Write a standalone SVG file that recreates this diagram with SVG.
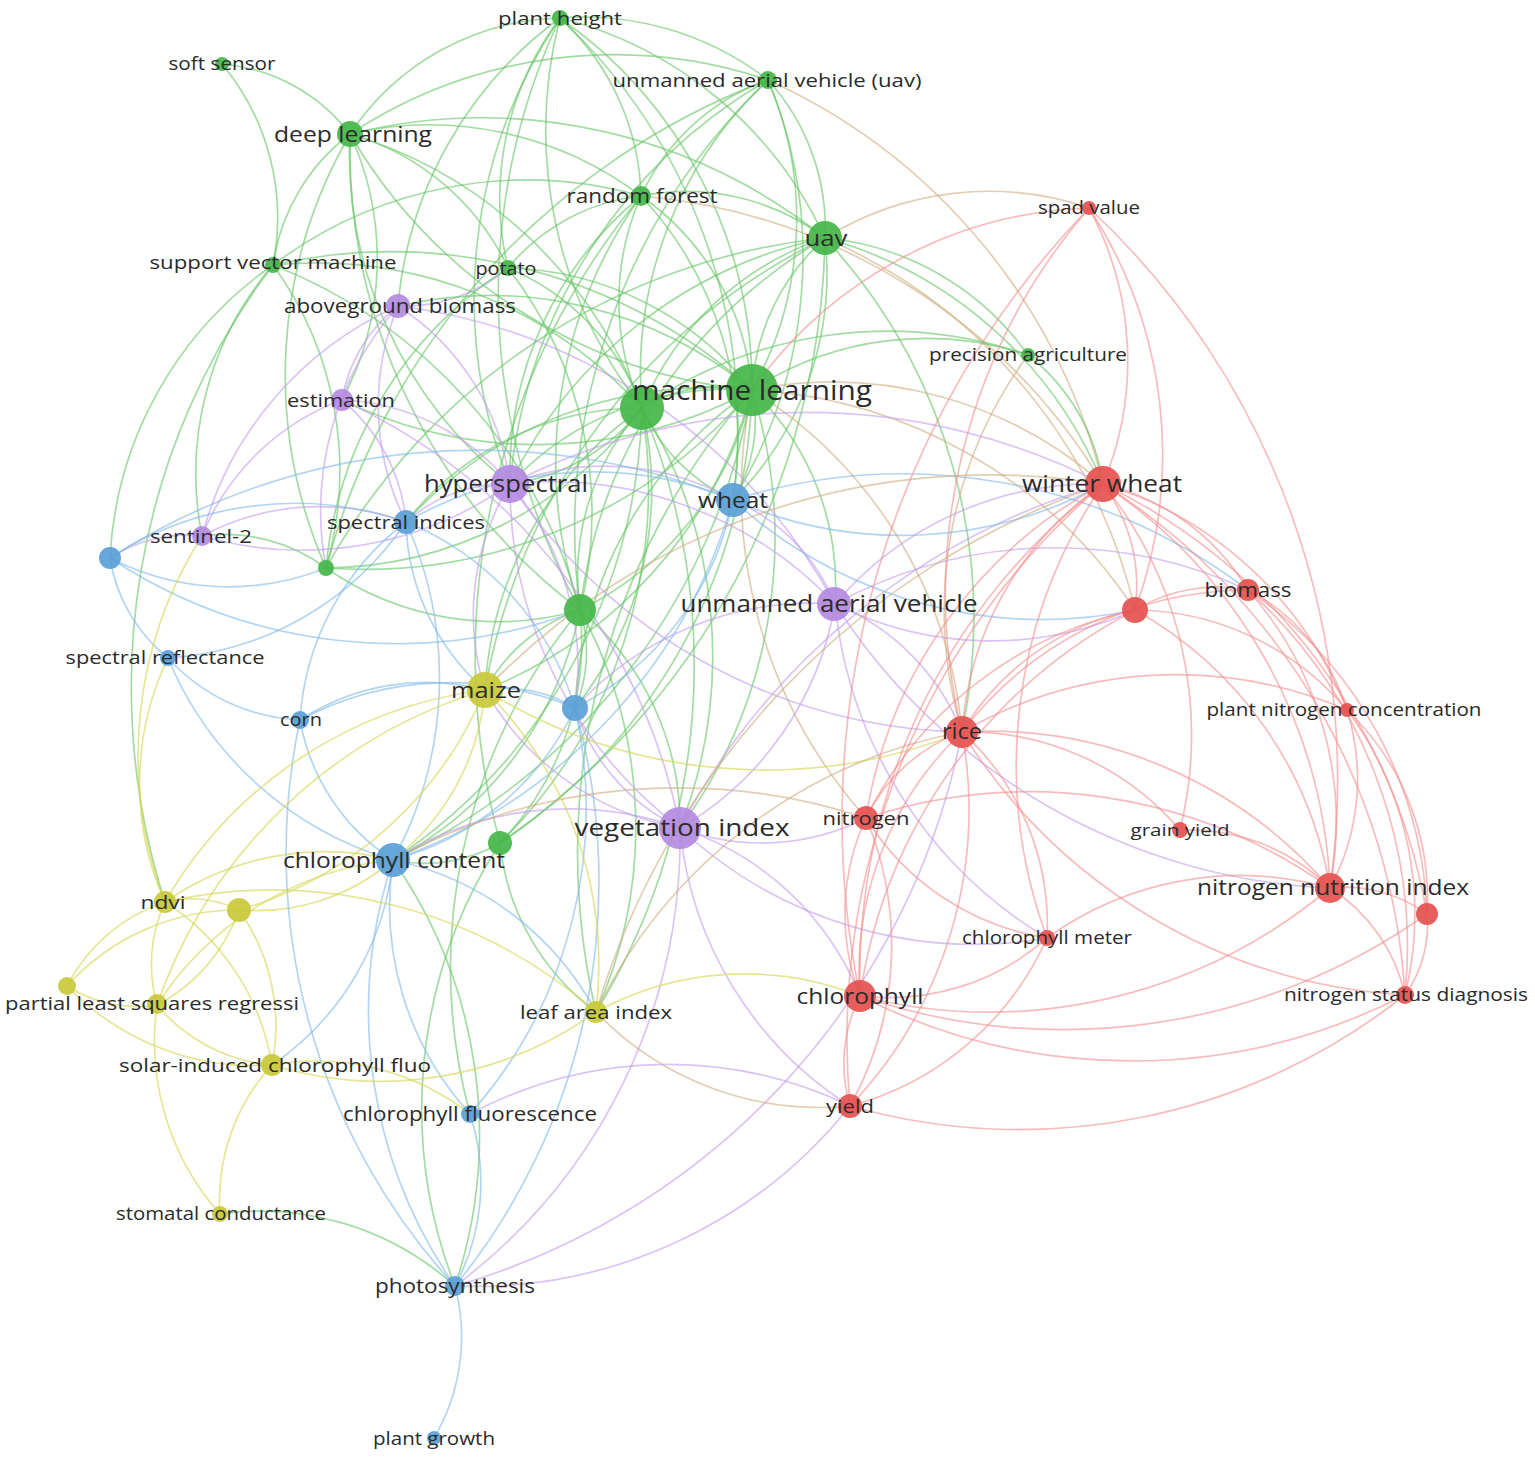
<svg xmlns="http://www.w3.org/2000/svg" width="1535" height="1457" viewBox="0 0 1535 1457">
<style>
.g{stroke:#66c566}.p{stroke:#c29ceb}.b{stroke:#80b9e7}.y{stroke:#d4d64e}.r{stroke:#f29090}.t{stroke:#cfae80}
.ng{fill:#45b649}.np{fill:#b48ae0}.nb{fill:#5a9fd6}.ny{fill:#c9c93a}.nr{fill:#e5514f}
text{font-family:"Open Sans","DejaVu Sans",sans-serif;fill:#2b2b2b;text-anchor:middle}
circle{fill-opacity:0.92}
</style>
<rect width="1535" height="1457" fill="#fff"/>
<g id="connectors" fill="none" stroke-width="1.7" stroke-opacity="0.6">
<path class="g" d="M350,134 A260,260 0 0 1 560,18"/>
<path class="g" d="M560,18 A300,300 0 0 1 768,80"/>
<path class="g" d="M560,18 A250,250 0 0 1 641,196"/>
<path class="g" d="M560,18 A400,400 0 0 1 825,238"/>
<path class="g" d="M560,18 A450,450 0 0 1 752,390"/>
<path class="g" d="M560,18 A450,450 0 0 0 642,408"/>
<path class="g" d="M560,18 A650,650 0 0 0 580,610"/>
<path class="g" d="M560,18 A300,300 0 0 0 508,268"/>
<path class="g" d="M560,18 A500,500 0 0 0 510,484"/>
<path class="g" d="M560,18 A400,400 0 0 0 398,306"/>
<path class="g" d="M560,18 A560,560 0 0 1 733,500"/>
<path class="g" d="M222,64 A180,180 0 0 1 350,134"/>
<path class="g" d="M222,64 A240,240 0 0 1 273,265"/>
<path class="g" d="M350,134 A480,480 0 0 1 768,80"/>
<path class="g" d="M350,134 A350,350 0 0 1 641,196"/>
<path class="g" d="M350,134 A550,550 0 0 1 825,238"/>
<path class="g" d="M350,134 A520,520 0 0 0 752,390"/>
<path class="g" d="M350,134 A450,450 0 0 1 642,408"/>
<path class="g" d="M350,134 A200,200 0 0 0 273,265"/>
<path class="g" d="M350,134 A250,250 0 0 1 508,268"/>
<path class="g" d="M350,134 A580,580 0 0 0 580,610"/>
<path class="g" d="M350,134 A480,480 0 0 0 326,568"/>
<path class="g" d="M350,134 A300,300 0 0 1 342,400"/>
<path class="g" d="M350,134 A420,420 0 0 0 510,484"/>
<path class="g" d="M768,80 A350,350 0 0 1 752,390"/>
<path class="g" d="M768,80 A400,400 0 0 0 642,408"/>
<path class="g" d="M768,80 A220,220 0 0 0 641,196"/>
<path class="g" d="M768,80 A220,220 0 0 1 825,238"/>
<path class="g" d="M768,80 A620,620 0 0 0 580,610"/>
<path class="t" d="M768,80 A600,600 0 0 1 1103,484"/>
<path class="g" d="M768,80 A720,720 0 0 0 326,568"/>
<path class="g" d="M768,80 A520,520 0 0 0 510,484"/>
<path class="g" d="M768,80 A460,460 0 0 1 733,500"/>
<path class="g" d="M641,196 A260,260 0 0 1 752,390"/>
<path class="g" d="M641,196 A260,260 0 0 0 642,408"/>
<path class="g" d="M641,196 A230,230 0 0 1 825,238"/>
<path class="g" d="M641,196 A460,460 0 0 0 580,610"/>
<path class="g" d="M641,196 A200,200 0 0 0 508,268"/>
<path class="g" d="M641,196 A360,360 0 0 0 510,484"/>
<path class="g" d="M641,196 A360,360 0 0 1 733,500"/>
<path class="g" d="M641,196 A720,720 0 0 0 500,843"/>
<path class="g" d="M641,196 A420,420 0 0 0 273,265"/>
<path class="t" d="M641,196 A600,600 0 0 1 1103,484"/>
<path class="g" d="M825,238 A220,220 0 0 0 752,390"/>
<path class="g" d="M825,238 A300,300 0 0 0 642,408"/>
<path class="g" d="M825,238 A500,500 0 0 0 580,610"/>
<path class="g" d="M825,238 A420,420 0 0 1 1103,484"/>
<path class="g" d="M825,238 A560,560 0 0 1 962,732"/>
<path class="g" d="M825,238 A280,280 0 0 1 1028,355"/>
<path class="g" d="M825,238 A450,450 0 0 0 510,484"/>
<path class="g" d="M825,238 A320,320 0 0 1 733,500"/>
<path class="g" d="M825,238 A650,650 0 0 0 326,568"/>
<path class="t" d="M825,238 A540,540 0 0 1 1135,610"/>
<path class="g" d="M825,238 A750,750 0 0 1 500,843"/>
<path class="g" d="M825,238 A620,620 0 0 0 485,690"/>
<path class="g" d="M508,268 A320,320 0 0 1 752,390"/>
<path class="g" d="M508,268 A240,240 0 0 1 642,408"/>
<path class="p" d="M508,268 A160,160 0 0 1 398,306"/>
<path class="g" d="M508,268 A400,400 0 0 1 580,610"/>
<path class="g" d="M508,268 A400,400 0 0 0 326,568"/>
<path class="g" d="M273,265 A540,540 0 0 1 752,390"/>
<path class="g" d="M273,265 A440,440 0 0 1 642,408"/>
<path class="g" d="M273,265 A350,350 0 0 1 326,568"/>
<path class="g" d="M273,265 A320,320 0 0 0 202,536"/>
<path class="g" d="M273,265 A700,700 0 0 0 165,902"/>
<path class="g" d="M273,265 A510,510 0 0 1 580,610"/>
<path class="g" d="M273,265 A380,380 0 0 0 110,558"/>
<path class="g" d="M1028,355 A320,320 0 0 0 752,390"/>
<path class="g" d="M1028,355 A200,200 0 0 1 1103,484"/>
<path class="g" d="M1028,355 A430,430 0 0 0 642,408"/>
<path class="t" d="M1028,355 A430,430 0 0 0 962,732"/>
<path class="g" d="M752,390 A150,150 0 0 0 642,408"/>
<path class="g" d="M752,390 A320,320 0 0 1 580,610"/>
<path class="g" d="M752,390 A560,560 0 0 1 500,843"/>
<path class="g" d="M752,390 A300,300 0 0 0 510,484"/>
<path class="g" d="M752,390 A270,270 0 0 1 835,604"/>
<path class="g" d="M752,390 A490,490 0 0 1 680,828"/>
<path class="g" d="M752,390 A150,150 0 0 1 733,500"/>
<path class="g" d="M752,390 A410,410 0 0 0 575,708"/>
<path class="t" d="M752,390 A410,410 0 0 1 1103,484"/>
<path class="t" d="M752,390 A450,450 0 0 1 962,732"/>
<path class="g" d="M752,390 A450,450 0 0 1 485,690"/>
<path class="g" d="M752,390 A410,410 0 0 0 406,522"/>
<path class="g" d="M752,390 A510,510 0 0 1 326,568"/>
<path class="t" d="M752,390 A490,490 0 0 1 1135,610"/>
<path class="t" d="M752,390 A490,490 0 0 0 866,818"/>
<path class="g" d="M752,390 A640,640 0 0 1 393,860"/>
<path class="g" d="M752,390 A700,700 0 0 0 596,1012"/>
<path class="g" d="M752,390 A410,410 0 0 0 398,306"/>
<path class="g" d="M752,390 A450,450 0 0 1 342,400"/>
<path class="g" d="M642,408 A250,250 0 0 0 580,610"/>
<path class="g" d="M642,408 A500,500 0 0 1 500,843"/>
<path class="g" d="M642,408 A200,200 0 0 1 510,484"/>
<path class="g" d="M642,408 A180,180 0 0 0 733,500"/>
<path class="g" d="M642,408 A350,350 0 0 1 575,708"/>
<path class="g" d="M642,408 A560,560 0 0 1 393,860"/>
<path class="g" d="M642,408 A370,370 0 0 0 485,690"/>
<path class="g" d="M642,408 A470,470 0 0 1 680,828"/>
<path class="g" d="M642,408 A660,660 0 0 1 596,1012"/>
<path class="g" d="M642,408 A300,300 0 0 0 406,522"/>
<path class="g" d="M642,408 A400,400 0 0 1 326,568"/>
<path class="g" d="M326,568 A300,300 0 0 0 580,610"/>
<path class="b" d="M326,568 A260,260 0 0 1 110,558"/>
<path class="g" d="M326,568 A170,170 0 0 0 202,536"/>
<path class="g" d="M580,610 A290,290 0 0 1 500,843"/>
<path class="g" d="M580,610 A140,140 0 0 1 575,708"/>
<path class="g" d="M580,610 A170,170 0 0 0 485,690"/>
<path class="g" d="M580,610 A280,280 0 0 1 680,828"/>
<path class="g" d="M580,610 A360,360 0 0 1 393,860"/>
<path class="g" d="M580,610 A450,450 0 0 1 596,1012"/>
<path class="g" d="M580,610 A560,560 0 0 0 470,1114"/>
<path class="g" d="M500,843 A150,150 0 0 1 393,860"/>
<path class="g" d="M500,843 A240,240 0 0 0 596,1012"/>
<path class="g" d="M500,843 A490,490 0 0 0 455,1286"/>
<path class="p" d="M398,306 A150,150 0 0 0 342,400"/>
<path class="p" d="M398,306 A250,250 0 0 1 510,484"/>
<path class="p" d="M398,306 A260,260 0 0 0 406,522"/>
<path class="p" d="M398,306 A350,350 0 0 0 202,536"/>
<path class="p" d="M398,306 A580,580 0 0 1 835,604"/>
<path class="p" d="M398,306 A310,310 0 0 0 326,568"/>
<path class="p" d="M342,400 A230,230 0 0 1 510,484"/>
<path class="p" d="M342,400 A240,240 0 0 0 202,536"/>
<path class="p" d="M342,400 A180,180 0 0 1 406,522"/>
<path class="p" d="M342,400 A600,600 0 0 1 680,828"/>
<path class="p" d="M510,484 A390,390 0 0 1 835,604"/>
<path class="p" d="M510,484 A430,430 0 0 0 680,828"/>
<path class="p" d="M510,484 A260,260 0 0 1 733,500"/>
<path class="p" d="M510,484 A150,150 0 0 0 406,522"/>
<path class="p" d="M510,484 A360,360 0 0 1 202,536"/>
<path class="p" d="M510,484 A280,280 0 0 1 575,708"/>
<path class="p" d="M510,484 A250,250 0 0 0 485,690"/>
<path class="p" d="M510,484 A650,650 0 0 1 1103,484"/>
<path class="p" d="M510,484 A560,560 0 0 0 962,732"/>
<path class="p" d="M202,536 A250,250 0 0 1 406,522"/>
<path class="p" d="M202,536 A140,140 0 0 0 110,558"/>
<path class="p" d="M835,604 A320,320 0 0 1 680,828"/>
<path class="p" d="M835,604 A190,190 0 0 0 733,500"/>
<path class="p" d="M835,604 A230,230 0 0 1 962,732"/>
<path class="p" d="M835,604 A340,340 0 0 1 1103,484"/>
<path class="p" d="M835,604 A350,350 0 0 0 1135,610"/>
<path class="p" d="M835,604 A460,460 0 0 1 1248,590"/>
<path class="p" d="M835,604 A620,620 0 0 0 1330,888"/>
<path class="p" d="M835,604 A440,440 0 0 0 1047,938"/>
<path class="p" d="M835,604 A320,320 0 0 0 575,708"/>
<path class="p" d="M680,828 A200,200 0 0 1 575,708"/>
<path class="p" d="M680,828 A330,330 0 0 0 393,860"/>
<path class="p" d="M680,828 A280,280 0 0 1 485,690"/>
<path class="p" d="M680,828 A230,230 0 0 0 866,818"/>
<path class="p" d="M680,828 A290,290 0 0 1 860,996"/>
<path class="p" d="M680,828 A370,370 0 0 0 850,1106"/>
<path class="p" d="M455,1286 A560,560 0 0 0 680,828"/>
<path class="p" d="M680,828 A430,430 0 0 0 1047,938"/>
<path class="p" d="M680,828 A700,700 0 0 1 1103,484"/>
<path class="b" d="M733,500 A370,370 0 0 0 406,522"/>
<path class="b" d="M733,500 A300,300 0 0 1 575,708"/>
<path class="b" d="M733,500 A540,540 0 0 1 393,860"/>
<path class="b" d="M733,500 A420,420 0 0 0 1103,484"/>
<path class="b" d="M733,500 A460,460 0 0 0 1135,610"/>
<path class="b" d="M110,558 A680,680 0 0 1 733,500"/>
<path class="b" d="M733,500 A570,570 0 0 1 1248,590"/>
<path class="b" d="M406,522 A340,340 0 0 0 110,558"/>
<path class="b" d="M406,522 A310,310 0 0 1 168,658"/>
<path class="b" d="M406,522 A270,270 0 0 0 300,720"/>
<path class="b" d="M406,522 A380,380 0 0 1 393,860"/>
<path class="b" d="M406,522 A290,290 0 0 1 575,708"/>
<path class="b" d="M406,522 A230,230 0 0 0 485,690"/>
<path class="b" d="M110,558 A160,160 0 0 0 168,658"/>
<path class="b" d="M110,558 A520,520 0 0 0 580,610"/>
<path class="b" d="M168,658 A190,190 0 0 0 300,720"/>
<path class="b" d="M168,658 A350,350 0 0 0 393,860"/>
<path class="b" d="M300,720 A210,210 0 0 0 393,860"/>
<path class="b" d="M300,720 A320,320 0 0 1 575,708"/>
<path class="b" d="M300,720 A230,230 0 0 1 485,690"/>
<path class="b" d="M575,708 A280,280 0 0 1 393,860"/>
<path class="b" d="M575,708 A130,130 0 0 0 485,690"/>
<path class="b" d="M393,860 A310,310 0 0 0 470,1114"/>
<path class="b" d="M393,860 A480,480 0 0 0 455,1286"/>
<path class="g" d="M393,860 A480,480 0 0 1 455,1286"/>
<path class="y" d="M393,860 A280,280 0 0 0 165,902"/>
<path class="y" d="M393,860 A210,210 0 0 1 239,910"/>
<path class="b" d="M393,860 A300,300 0 0 1 596,1012"/>
<path class="b" d="M393,860 A280,280 0 0 1 272,1065"/>
<path class="b" d="M470,1114 A220,220 0 0 1 455,1286"/>
<path class="b" d="M455,1286 A200,200 0 0 1 434,1438"/>
<path class="g" d="M455,1286 A290,290 0 0 0 220,1214"/>
<path class="p" d="M455,1286 A480,480 0 0 0 850,1106"/>
<path class="p" d="M455,1286 A720,720 0 0 0 962,732"/>
<path class="b" d="M455,1286 A640,640 0 0 1 300,720"/>
<path class="b" d="M455,1286 A640,640 0 0 0 575,708"/>
<path class="b" d="M470,1114 A460,460 0 0 0 575,708"/>
<path class="p" d="M470,1114 A420,420 0 0 1 850,1106"/>
<path class="y" d="M470,1114 A250,250 0 0 0 272,1065"/>
<path class="y" d="M485,690 A430,430 0 0 0 165,902"/>
<path class="y" d="M485,690 A380,380 0 0 1 239,910"/>
<path class="y" d="M485,690 A390,390 0 0 1 596,1012"/>
<path class="y" d="M485,690 A240,240 0 0 1 393,860"/>
<path class="y" d="M485,690 A500,500 0 0 0 157,1005"/>
<path class="y" d="M485,690 A530,530 0 0 0 962,732"/>
<path class="t" d="M485,690 A700,700 0 0 1 1103,484"/>
<path class="y" d="M165,902 A110,110 0 0 1 239,910"/>
<path class="y" d="M165,902 A170,170 0 0 0 67,986"/>
<path class="y" d="M165,902 A150,150 0 0 0 157,1005"/>
<path class="y" d="M165,902 A240,240 0 0 1 272,1065"/>
<path class="y" d="M165,902 A490,490 0 0 1 596,1012"/>
<path class="y" d="M165,902 A290,290 0 0 1 168,658"/>
<path class="y" d="M165,902 A410,410 0 0 1 202,536"/>
<path class="y" d="M239,910 A170,170 0 0 1 157,1005"/>
<path class="y" d="M239,910 A200,200 0 0 1 272,1065"/>
<path class="y" d="M239,910 A230,230 0 0 0 67,986"/>
<path class="y" d="M67,986 A130,130 0 0 0 157,1005"/>
<path class="y" d="M67,986 A260,260 0 0 0 272,1065"/>
<path class="y" d="M157,1005 A170,170 0 0 0 272,1065"/>
<path class="y" d="M157,1005 A320,320 0 0 1 393,860"/>
<path class="y" d="M596,1012 A310,310 0 0 1 860,996"/>
<path class="t" d="M596,1012 A310,310 0 0 0 850,1106"/>
<path class="y" d="M596,1012 A370,370 0 0 1 272,1065"/>
<path class="t" d="M596,1012 A800,800 0 0 1 1103,484"/>
<path class="t" d="M596,1012 A510,510 0 0 1 962,732"/>
<path class="y" d="M272,1065 A200,200 0 0 0 220,1214"/>
<path class="y" d="M220,1214 A260,260 0 0 1 157,1005"/>
<path class="r" d="M1089,208 A320,320 0 0 1 1103,484"/>
<path class="r" d="M1089,208 A450,450 0 0 1 1135,610"/>
<path class="r" d="M1089,208 A590,590 0 0 0 962,732"/>
<path class="r" d="M1089,208 A780,780 0 0 1 1330,888"/>
<path class="r" d="M1089,208 A880,880 0 0 0 860,996"/>
<path class="t" d="M825,238 A310,310 0 0 1 1089,208"/>
<path class="r" d="M1089,208 A430,430 0 0 0 752,390"/>
<path class="r" d="M1103,484 A170,170 0 0 1 1135,610"/>
<path class="r" d="M1103,484 A230,230 0 0 1 1248,590"/>
<path class="r" d="M1103,484 A380,380 0 0 1 1347,710"/>
<path class="r" d="M1103,484 A330,330 0 0 0 962,732"/>
<path class="r" d="M1103,484 A460,460 0 0 0 866,818"/>
<path class="r" d="M1103,484 A400,400 0 0 1 1180,830"/>
<path class="r" d="M1103,484 A510,510 0 0 1 1330,888"/>
<path class="r" d="M1103,484 A590,590 0 0 1 1427,914"/>
<path class="r" d="M1103,484 A620,620 0 0 0 860,996"/>
<path class="r" d="M1103,484 A650,650 0 0 1 1405,995"/>
<path class="r" d="M1103,484 A730,730 0 0 0 850,1106"/>
<path class="r" d="M1103,484 A500,500 0 0 0 1047,938"/>
<path class="r" d="M1135,610 A160,160 0 0 1 1248,590"/>
<path class="r" d="M1135,610 A260,260 0 0 0 962,732"/>
<path class="r" d="M1135,610 A390,390 0 0 0 866,818"/>
<path class="r" d="M1135,610 A390,390 0 0 1 1330,888"/>
<path class="r" d="M1135,610 A520,520 0 0 0 860,996"/>
<path class="r" d="M1135,610 A280,280 0 0 1 1347,710"/>
<path class="r" d="M1248,590 A200,200 0 0 1 1347,710"/>
<path class="r" d="M1248,590 A360,360 0 0 0 962,732"/>
<path class="r" d="M1248,590 A350,350 0 0 1 1330,888"/>
<path class="r" d="M1248,590 A480,480 0 0 1 1405,995"/>
<path class="r" d="M1248,590 A410,410 0 0 1 1427,914"/>
<path class="r" d="M1347,710 A230,230 0 0 1 1330,888"/>
<path class="r" d="M1347,710 A340,340 0 0 1 1405,995"/>
<path class="r" d="M1347,710 A260,260 0 0 1 1427,914"/>
<path class="r" d="M1347,710 A430,430 0 0 0 962,732"/>
<path class="r" d="M962,732 A170,170 0 0 0 866,818"/>
<path class="r" d="M962,732 A280,280 0 0 1 1180,830"/>
<path class="r" d="M962,732 A450,450 0 0 1 1330,888"/>
<path class="r" d="M962,732 A260,260 0 0 1 1047,938"/>
<path class="r" d="M962,732 A330,330 0 0 0 860,996"/>
<path class="r" d="M962,732 A430,430 0 0 1 850,1106"/>
<path class="r" d="M962,732 A560,560 0 0 0 1405,995"/>
<path class="r" d="M866,818 A230,230 0 0 0 860,996"/>
<path class="r" d="M866,818 A330,330 0 0 1 850,1106"/>
<path class="r" d="M866,818 A260,260 0 0 0 1047,938"/>
<path class="r" d="M866,818 A520,520 0 0 1 1330,888"/>
<path class="r" d="M1180,830 A200,200 0 0 1 1330,888"/>
<path class="r" d="M1330,888 A140,140 0 0 1 1427,914"/>
<path class="r" d="M1330,888 A170,170 0 0 1 1405,995"/>
<path class="r" d="M1330,888 A530,530 0 0 1 860,996"/>
<path class="r" d="M1330,888 A330,330 0 0 0 1047,938"/>
<path class="r" d="M1427,914 A120,120 0 0 1 1405,995"/>
<path class="r" d="M1427,914 A630,630 0 0 1 860,996"/>
<path class="r" d="M1047,938 A240,240 0 0 1 860,996"/>
<path class="r" d="M1047,938 A300,300 0 0 1 850,1106"/>
<path class="r" d="M860,996 A150,150 0 0 0 850,1106"/>
<path class="r" d="M860,996 A600,600 0 0 0 1405,995"/>
<path class="r" d="M850,1106 A620,620 0 0 0 1405,995"/>
<path class="t" d="M866,818 A600,600 0 0 0 393,860"/>
</g>
<g id="n-plant-height"><circle class="ng" cx="560" cy="18" r="8"/><text x="560" y="25" font-size="19" textLength="124" lengthAdjust="spacingAndGlyphs">plant height</text></g>
<g id="n-soft-sensor"><circle class="ng" cx="222" cy="64" r="7"/><text x="222" y="70" font-size="18" textLength="107" lengthAdjust="spacingAndGlyphs">soft sensor</text></g>
<g id="n-uav-full"><circle class="ng" cx="768" cy="80" r="9"/><text x="767" y="87" font-size="19" textLength="309" lengthAdjust="spacingAndGlyphs">unmanned aerial vehicle (uav)</text></g>
<g id="n-deep-learning"><circle class="ng" cx="350" cy="134" r="13"/><text x="353" y="142" font-size="22" textLength="158" lengthAdjust="spacingAndGlyphs">deep learning</text></g>
<g id="n-random-forest"><circle class="ng" cx="641" cy="196" r="10"/><text x="642" y="203" font-size="20" textLength="151" lengthAdjust="spacingAndGlyphs">random forest</text></g>
<g id="n-uav"><circle class="ng" cx="825" cy="238" r="17"/><text x="826" y="246" font-size="22" textLength="43" lengthAdjust="spacingAndGlyphs">uav</text></g>
<g id="n-potato"><circle class="ng" cx="508" cy="268" r="8"/><text x="506" y="275" font-size="18" textLength="61" lengthAdjust="spacingAndGlyphs">potato</text></g>
<g id="n-svm"><circle class="ng" cx="273" cy="265" r="8"/><text x="273" y="269" font-size="19" textLength="247" lengthAdjust="spacingAndGlyphs">support vector machine</text></g>
<g id="n-precision-agriculture"><circle class="ng" cx="1028" cy="355" r="7"/><text x="1028" y="361" font-size="18" textLength="198" lengthAdjust="spacingAndGlyphs">precision agriculture</text></g>
<g id="n-remote"><circle class="ng" cx="642" cy="408" r="22"/></g>
<g id="n-machine-learning"><circle class="ng" cx="752" cy="390" r="26"/><text x="752" y="400" font-size="28" textLength="240" lengthAdjust="spacingAndGlyphs">machine learning</text></g>
<g id="n-g12"><circle class="ng" cx="326" cy="568" r="8"/></g>
<g id="n-g13"><circle class="ng" cx="580" cy="610" r="16"/></g>
<g id="n-g14"><circle class="ng" cx="500" cy="843" r="12"/></g>
<g id="n-aboveground-biomass"><circle class="np" cx="398" cy="306" r="12"/><text x="400" y="313" font-size="20" textLength="232" lengthAdjust="spacingAndGlyphs">aboveground biomass</text></g>
<g id="n-estimation"><circle class="np" cx="342" cy="400" r="11"/><text x="341" y="407" font-size="19" textLength="108" lengthAdjust="spacingAndGlyphs">estimation</text></g>
<g id="n-hyperspectral"><circle class="np" cx="510" cy="484" r="19"/><text x="506" y="492" font-size="24" textLength="164" lengthAdjust="spacingAndGlyphs">hyperspectral</text></g>
<g id="n-sentinel-2"><circle class="np" cx="202" cy="536" r="10"/><text x="201" y="543" font-size="19" textLength="102" lengthAdjust="spacingAndGlyphs">sentinel-2</text></g>
<g id="n-unmanned-aerial-vehicle"><circle class="np" cx="834" cy="604" r="17"/><text x="829" y="612" font-size="23" textLength="297" lengthAdjust="spacingAndGlyphs">unmanned aerial vehicle</text></g>
<g id="n-vegetation-index"><circle class="np" cx="680" cy="828" r="21"/><text x="682" y="836" font-size="24" textLength="215" lengthAdjust="spacingAndGlyphs">vegetation index</text></g>
<g id="n-wheat"><circle class="nb" cx="733" cy="500" r="17"/><text x="733" y="508" font-size="21" textLength="70" lengthAdjust="spacingAndGlyphs">wheat</text></g>
<g id="n-spectral-indices"><circle class="nb" cx="406" cy="522" r="12"/><text x="406" y="529" font-size="19" textLength="158" lengthAdjust="spacingAndGlyphs">spectral indices</text></g>
<g id="n-b3"><circle class="nb" cx="110" cy="558" r="11"/></g>
<g id="n-spectral-reflectance"><circle class="nb" cx="168" cy="658" r="8"/><text x="165" y="664" font-size="18" textLength="199" lengthAdjust="spacingAndGlyphs">spectral reflectance</text></g>
<g id="n-corn"><circle class="nb" cx="300" cy="720" r="9"/><text x="301" y="726" font-size="18" textLength="42" lengthAdjust="spacingAndGlyphs">corn</text></g>
<g id="n-b6"><circle class="nb" cx="575" cy="708" r="13"/></g>
<g id="n-chlorophyll-content"><circle class="nb" cx="393" cy="860" r="17"/><text x="394" y="868" font-size="22" textLength="222" lengthAdjust="spacingAndGlyphs">chlorophyll content</text></g>
<g id="n-chlorophyll-fluorescence"><circle class="nb" cx="470" cy="1114" r="9"/><text x="470" y="1121" font-size="20" textLength="254" lengthAdjust="spacingAndGlyphs">chlorophyll fluorescence</text></g>
<g id="n-photosynthesis"><circle class="nb" cx="455" cy="1286" r="10"/><text x="455" y="1293" font-size="20" textLength="160" lengthAdjust="spacingAndGlyphs">photosynthesis</text></g>
<g id="n-plant-growth"><circle class="nb" cx="434" cy="1438" r="7"/><text x="434" y="1445" font-size="19" textLength="122" lengthAdjust="spacingAndGlyphs">plant growth</text></g>
<g id="n-maize"><circle class="ny" cx="485" cy="690" r="18"/><text x="486" y="698" font-size="22" textLength="70" lengthAdjust="spacingAndGlyphs">maize</text></g>
<g id="n-ndvi"><circle class="ny" cx="165" cy="902" r="11"/><text x="163" y="909" font-size="19" textLength="45" lengthAdjust="spacingAndGlyphs">ndvi</text></g>
<g id="n-y3"><circle class="ny" cx="239" cy="910" r="12"/></g>
<g id="n-y4"><circle class="ny" cx="67" cy="986" r="9"/></g>
<g id="n-plsr"><circle class="ny" cx="157" cy="1004" r="10"/><text x="152" y="1010" font-size="18" textLength="294" lengthAdjust="spacingAndGlyphs">partial least squares regressi</text></g>
<g id="n-leaf-area-index"><circle class="ny" cx="596" cy="1012" r="11"/><text x="596" y="1019" font-size="19" textLength="152" lengthAdjust="spacingAndGlyphs">leaf area index</text></g>
<g id="n-sif"><circle class="ny" cx="272" cy="1065" r="11"/><text x="275" y="1072" font-size="19" textLength="312" lengthAdjust="spacingAndGlyphs">solar-induced chlorophyll fluo</text></g>
<g id="n-stomatal-conductance"><circle class="ny" cx="220" cy="1214" r="8"/><text x="221" y="1220" font-size="18" textLength="210" lengthAdjust="spacingAndGlyphs">stomatal conductance</text></g>
<g id="n-spad-value"><circle class="nr" cx="1089" cy="208" r="7"/><text x="1089" y="214" font-size="18" textLength="102" lengthAdjust="spacingAndGlyphs">spad value</text></g>
<g id="n-winter-wheat"><circle class="nr" cx="1103" cy="484" r="18"/><text x="1102" y="492" font-size="24" textLength="160" lengthAdjust="spacingAndGlyphs">winter wheat</text></g>
<g id="n-r3"><circle class="nr" cx="1135" cy="610" r="13"/></g>
<g id="n-biomass"><circle class="nr" cx="1248" cy="590" r="11"/><text x="1248" y="597" font-size="20" textLength="87" lengthAdjust="spacingAndGlyphs">biomass</text></g>
<g id="n-plant-nitrogen-concentration"><circle class="nr" cx="1347" cy="710" r="7"/><text x="1344" y="716" font-size="18" textLength="275" lengthAdjust="spacingAndGlyphs">plant nitrogen concentration</text></g>
<g id="n-rice"><circle class="nr" cx="962" cy="732" r="16"/><text x="962" y="739" font-size="21" textLength="40" lengthAdjust="spacingAndGlyphs">rice</text></g>
<g id="n-nitrogen"><circle class="nr" cx="866" cy="818" r="12"/><text x="866" y="825" font-size="19" textLength="87" lengthAdjust="spacingAndGlyphs">nitrogen</text></g>
<g id="n-grain-yield"><circle class="nr" cx="1180" cy="830" r="8"/><text x="1180" y="836" font-size="17" textLength="99" lengthAdjust="spacingAndGlyphs">grain yield</text></g>
<g id="n-nitrogen-nutrition-index"><circle class="nr" cx="1330" cy="888" r="15"/><text x="1333" y="895" font-size="21" textLength="272" lengthAdjust="spacingAndGlyphs">nitrogen nutrition index</text></g>
<g id="n-r10"><circle class="nr" cx="1427" cy="914" r="11"/></g>
<g id="n-chlorophyll-meter"><circle class="nr" cx="1047" cy="938" r="8"/><text x="1047" y="944" font-size="18" textLength="170" lengthAdjust="spacingAndGlyphs">chlorophyll meter</text></g>
<g id="n-chlorophyll"><circle class="nr" cx="860" cy="996" r="16"/><text x="860" y="1004" font-size="22" textLength="127" lengthAdjust="spacingAndGlyphs">chlorophyll</text></g>
<g id="n-nitrogen-status-diagnosis"><circle class="nr" cx="1405" cy="995" r="9"/><text x="1406" y="1001" font-size="18" textLength="244" lengthAdjust="spacingAndGlyphs">nitrogen status diagnosis</text></g>
<g id="n-yield"><circle class="nr" cx="850" cy="1106" r="12"/><text x="850" y="1113" font-size="19" textLength="48" lengthAdjust="spacingAndGlyphs">yield</text></g>
</svg>
